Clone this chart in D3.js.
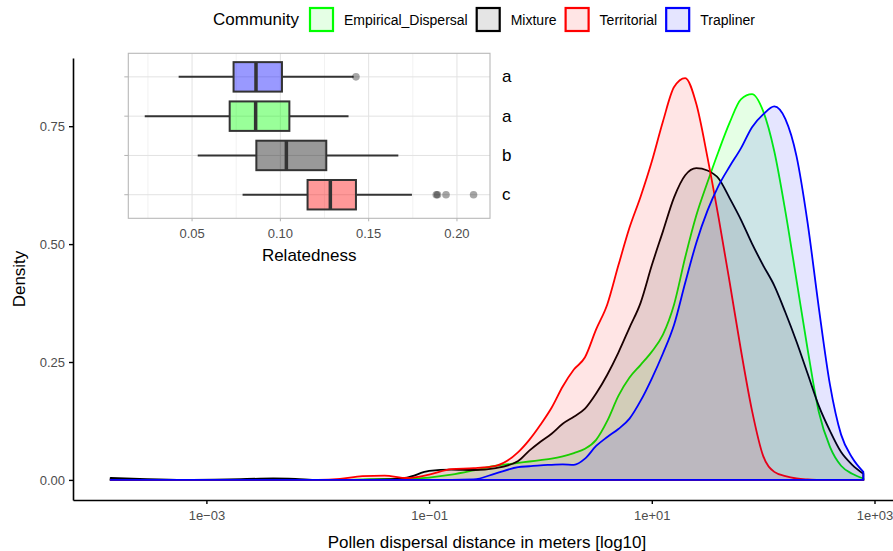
<html>
<head>
<meta charset="utf-8">
<script src="https://d3js.org/d3.v7.min.js"></script>
<style>
body { margin: 0; background: #fff; }
svg { display: block; font-family: "Liberation Sans", Arial, sans-serif; }
</style>
</head>
<body>
<svg id="chart" width="893" height="551"></svg>
<script>

// ---- main density plot data (x = log10 of distance in m) ----
var communities = ["Empirical_Dispersal", "Mixture", "Territorial", "Trapliner"]

var logDistance = [-3.86, -3.6, -3.2, -2.8, -2.4, -2.2, -2.0, -1.8, -1.6, -1.4, -1.2, -1.0, -0.8, -0.6, -0.4, -0.2,
	-0.1, 0.0, 0.1, 0.2, 0.3, 0.4, 0.5, 0.6, 0.7, 0.8, 0.9, 1.0, 1.1, 1.2, 1.3, 1.4, 1.5, 1.6, 1.7, 1.8, 1.9,
	2.0, 2.1, 2.2, 2.3, 2.4, 2.5, 2.6, 2.7, 2.8, 2.9]

var densEmpirical = [0, 0, 0, 0, 0, 0, 0, 0, 0.001, 0.002, 0.002, 0.005, 0.011, 0.020, 0.030, 0.036,
	0.039, 0.042, 0.045, 0.050, 0.057, 0.066, 0.085, 0.125, 0.178, 0.217, 0.244, 0.272, 0.308, 0.372, 0.472,
	0.561, 0.631, 0.697, 0.758, 0.807, 0.818, 0.782, 0.697, 0.569, 0.423, 0.276, 0.144, 0.070, 0.030, 0.013, 0.003]

var densMixture = [0.004, 0.002, 0, 0.001, 0.003, 0.002, 0, 0, 0, 0.001, 0.005, 0.019, 0.022, 0.021, 0.025, 0.040,
	0.062, 0.081, 0.098, 0.119, 0.134, 0.151, 0.183, 0.223, 0.270, 0.323, 0.376, 0.455, 0.527, 0.599, 0.646,
	0.661, 0.656, 0.639, 0.597, 0.552, 0.501, 0.455, 0.412, 0.355, 0.293, 0.225, 0.157, 0.104, 0.059, 0.032, 0.013]

var densTerritorial = [0, 0, 0, 0, 0, 0, 0, 0.002, 0.008, 0.009, 0.004, 0.011, 0.023, 0.025, 0.030, 0.059,
	0.085, 0.117, 0.153, 0.198, 0.234, 0.260, 0.319, 0.372, 0.455, 0.535, 0.601, 0.675, 0.760, 0.833, 0.852,
	0.797, 0.684, 0.556, 0.418, 0.276, 0.147, 0.051, 0.017, 0.008, 0.003, 0.001, 0, 0, 0, 0, 0]

var densTrapliner = [0, 0, 0, 0, 0, 0, 0, 0, 0, 0, 0, 0, 0, 0.001, 0.014, 0.027,
	0.029, 0.031, 0.032, 0.033, 0.032, 0.045, 0.072, 0.091, 0.108, 0.130, 0.168, 0.215, 0.268, 0.329, 0.418,
	0.503, 0.571, 0.624, 0.665, 0.703, 0.748, 0.775, 0.792, 0.765, 0.686, 0.544, 0.365, 0.202, 0.096, 0.047, 0.017]

var xTicks = [1e-3, 1e-1, 1e1, 1e3]
var xTickLabels = ["1e\u221203", "1e\u221201", "1e+01", "1e+03"]
var yTicks = [0, 0.25, 0.5, 0.75]

// ---- inset boxplot data (relatedness) ----
var boxOrder = ["Trapliner", "Empirical_Dispersal", "Mixture", "Territorial"]
var boxLow = [0.0424, 0.0232, 0.0532, 0.0786]
var boxQ1 = [0.0735, 0.0713, 0.0864, 0.1154]
var boxMedian = [0.0862, 0.0860, 0.1034, 0.1283]
var boxQ3 = [0.1009, 0.1051, 0.1260, 0.1428]
var boxHigh = [0.1415, 0.1386, 0.1668, 0.1745]
var sigLetters = ["a", "a", "b", "c"]
var outlierGroup = ["Trapliner", "Territorial", "Territorial", "Territorial", "Territorial"]
var outlierValue = [0.1428, 0.1883, 0.1890, 0.1938, 0.2094]
var relTicks = [0.05, 0.10, 0.15, 0.20]

var svg = d3.select("#chart")
var font = "Liberation Sans, Arial, sans-serif"

var z = d3.scaleOrdinal()
	.domain(communities)
	.range(["#00ff00", "#000000", "#ff0000", "#0000ff"])

var series = [densEmpirical, densMixture, densTerritorial, densTrapliner]

// panel limits with ggplot style 5% expansion
var panel = {left: 73, right: 901, top: 58, bottom: 500}
var logExt = d3.extent(logDistance)
var logPad = (logExt[1] - logExt[0]) * 0.05
var x = d3.scaleLog()
	.domain([Math.pow(10, logExt[0] - logPad), Math.pow(10, logExt[1] + logPad)])
	.range([panel.left, panel.right])

var yMax = d3.max(series, s => d3.max(s))
var y = d3.scaleLinear()
	.domain([-yMax * 0.05, yMax * 1.05])
	.range([panel.bottom, panel.top])

var area = d3.area()
	.curve(d3.curveMonotoneX)
	.x(d => x(Math.pow(10, d[0])))
	.y0(y(0))
	.y1(d => y(d[1]))

communities.forEach(function(c, i) {
	var pts = logDistance.map((l, j) => [l, series[i][j]])
	svg.append("path")
		.datum(pts)
		.attr("d", area)
		.attr("fill", z(c))
		.attr("fill-opacity", 0.1)
		.attr("stroke", z(c))
		.attr("stroke-width", 1.8)
		.attr("stroke-linejoin", "round")
})

// axes
var xAxis = svg.append("g")
	.attr("transform", `translate(0,${panel.bottom})`)
	.call(d3.axisBottom(x).tickValues(xTicks).tickFormat((d, i) => xTickLabels[i])
		.tickSize(4).tickSizeOuter(0).tickPadding(7))

var yAxis = svg.append("g")
	.attr("transform", `translate(${panel.left},0)`)
	.call(d3.axisLeft(y).tickValues(yTicks).tickFormat(d3.format(".2f"))
		.tickSize(4).tickSizeOuter(0).tickPadding(4))

svg.selectAll(".domain").attr("stroke", "#000").attr("stroke-width", 1.6)
svg.selectAll(".tick line").attr("stroke", "#000").attr("stroke-width", 1.4)
svg.selectAll(".tick text")
	.attr("fill", "#4d4d4d")
	.attr("font-size", 13)
	.attr("font-family", font)

svg.append("text")
	.attr("x", (panel.left + panel.right) / 2)
	.attr("y", 548)
	.attr("text-anchor", "middle")
	.attr("font-size", 17)
	.attr("fill", "#000")
	.text("Pollen dispersal distance in meters [log10]")

svg.append("text")
	.attr("transform", "translate(25," + (panel.top + panel.bottom) / 2 + ") rotate(-90)")
	.attr("text-anchor", "middle")
	.attr("font-size", 17)
	.attr("fill", "#000")
	.text("Density")

// legend on top
var legend = svg.append("g")
legend.append("text")
	.attr("x", 213)
	.attr("y", 24.5)
	.attr("font-size", 17)
	.text("Community")

var lx = 310
communities.forEach(function(c) {
	legend.append("rect")
		.attr("x", lx)
		.attr("y", 8)
		.attr("width", 23)
		.attr("height", 23)
		.attr("fill", "#fff")
	legend.append("rect")
		.attr("x", lx)
		.attr("y", 8)
		.attr("width", 23)
		.attr("height", 23)
		.attr("fill", z(c))
		.attr("fill-opacity", 0.1)
		.attr("stroke", z(c))
		.attr("stroke-width", 2.2)
	var t = legend.append("text")
		.attr("x", lx + 34)
		.attr("y", 25)
		.attr("font-size", 14)
		.text(c)
	lx += 34 + t.node().getComputedTextLength() + 9
})

// ---- inset ----
var inset = {left: 128.3, right: 490, top: 53.3, bottom: 218.3}
var g2 = svg.append("g")

g2.append("rect")
	.attr("x", 108).attr("y", 44)
	.attr("width", 420).attr("height", 226)
	.attr("fill", "#fff")

var relExt = d3.extent(boxLow.concat(boxHigh, outlierValue))
var relPad = (relExt[1] - relExt[0]) * 0.05
var bx = d3.scaleLinear()
	.domain([relExt[0] - relPad, relExt[1] + relPad])
	.range([inset.left, inset.right])

var by = d3.scalePoint()
	.domain(boxOrder)
	.range([inset.top, inset.bottom])
	.padding(0.6)
var boxH = by.step() * 0.75

// grid
var minor = relTicks.map(t => t - 0.025).concat([relTicks[relTicks.length - 1] + 0.025])
	.filter(v => v > bx.domain()[0] && v < bx.domain()[1])
g2.selectAll(".minor").data(minor).enter().append("line")
	.attr("x1", d => bx(d)).attr("x2", d => bx(d))
	.attr("y1", inset.top).attr("y2", inset.bottom)
	.attr("stroke", "#ececec").attr("stroke-width", 0.7)
g2.selectAll(".major").data(relTicks).enter().append("line")
	.attr("x1", d => bx(d)).attr("x2", d => bx(d))
	.attr("y1", inset.top).attr("y2", inset.bottom)
	.attr("stroke", "#e2e2e2").attr("stroke-width", 1)
g2.selectAll(".hgrid").data(boxOrder).enter().append("line")
	.attr("x1", inset.left).attr("x2", inset.right)
	.attr("y1", d => by(d)).attr("y2", d => by(d))
	.attr("stroke", "#e2e2e2").attr("stroke-width", 1)

// whiskers, boxes, medians
boxOrder.forEach(function(c, i) {
	var cy = by(c)
	g2.append("line")
		.attr("x1", bx(boxLow[i])).attr("x2", bx(boxQ1[i]))
		.attr("y1", cy).attr("y2", cy)
		.attr("stroke", "#333").attr("stroke-width", 2)
	g2.append("line")
		.attr("x1", bx(boxQ3[i])).attr("x2", bx(boxHigh[i]))
		.attr("y1", cy).attr("y2", cy)
		.attr("stroke", "#333").attr("stroke-width", 2)
	g2.append("rect")
		.attr("x", bx(boxQ1[i]))
		.attr("y", cy - boxH / 2)
		.attr("width", bx(boxQ3[i]) - bx(boxQ1[i]))
		.attr("height", boxH)
		.attr("fill", z(c))
		.attr("fill-opacity", 0.4)
		.attr("stroke", "#333")
		.attr("stroke-width", 2)
	g2.append("line")
		.attr("x1", bx(boxMedian[i])).attr("x2", bx(boxMedian[i]))
		.attr("y1", cy - boxH / 2).attr("y2", cy + boxH / 2)
		.attr("stroke", "#333").attr("stroke-width", 3.5)
})

g2.selectAll(".outlier").data(outlierValue).enter().append("circle")
	.attr("cx", d => bx(d))
	.attr("cy", (d, i) => by(outlierGroup[i]))
	.attr("r", 3.8)
	.attr("fill", "#000")
	.attr("fill-opacity", 0.35)

// panel border and ticks
g2.append("rect")
	.attr("x", inset.left).attr("y", inset.top)
	.attr("width", inset.right - inset.left)
	.attr("height", inset.bottom - inset.top)
	.attr("fill", "none")
	.attr("stroke", "#b8b8b8")
	.attr("stroke-width", 1.1)

g2.selectAll(".ytick").data(boxOrder).enter().append("line")
	.attr("x1", inset.left - 4).attr("x2", inset.left)
	.attr("y1", d => by(d)).attr("y2", d => by(d))
	.attr("stroke", "#b3b3b3").attr("stroke-width", 1)

g2.selectAll(".xtick").data(relTicks).enter().append("line")
	.attr("x1", d => bx(d)).attr("x2", d => bx(d))
	.attr("y1", inset.bottom).attr("y2", inset.bottom + 3)
	.attr("stroke", "#b3b3b3").attr("stroke-width", 1)

g2.selectAll(".xlab").data(relTicks).enter().append("text")
	.attr("x", d => bx(d))
	.attr("y", 238)
	.attr("text-anchor", "middle")
	.attr("font-size", 13)
	.attr("fill", "#4d4d4d")
	.text(d3.format(".2f"))

g2.selectAll(".sig").data(sigLetters).enter().append("text")
	.attr("x", 502)
	.attr("y", (d, i) => by(boxOrder[i]) + 5.5)
	.attr("font-size", 17)
	.attr("fill", "#000")
	.text(d => d)

g2.append("text")
	.attr("x", (inset.left + inset.right) / 2)
	.attr("y", 260.5)
	.attr("text-anchor", "middle")
	.attr("font-size", 17)
	.attr("fill", "#000")
	.text("Relatedness")

</script>
</body>
</html>
